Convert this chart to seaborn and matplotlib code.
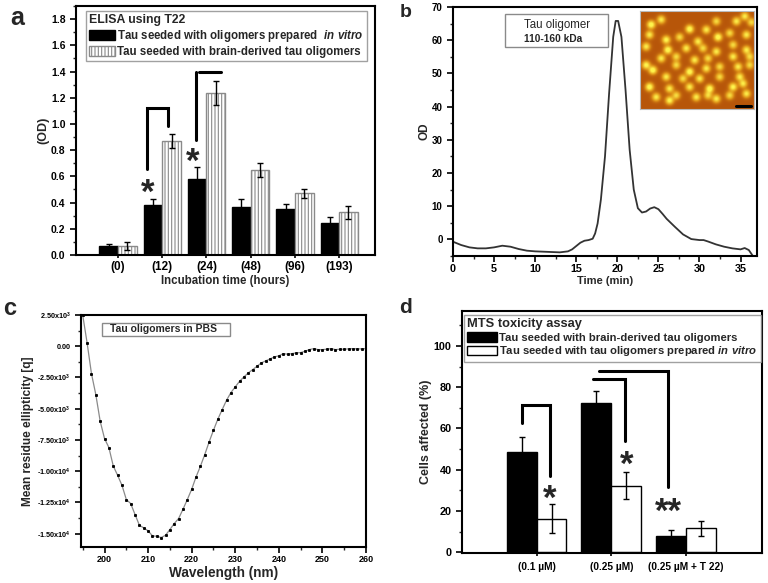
import numpy as np
import pandas as pd
import matplotlib
matplotlib.use('Agg')
import matplotlib.pyplot as plt
import seaborn as sns
from matplotlib.patches import Patch, Rectangle
from matplotlib.colors import LinearSegmentedColormap
from matplotlib.ticker import MultipleLocator, FixedLocator, FormatStrFormatter

# --- panel a: ELISA using T22 ---
elisa_times = ['(0)', '(12)', '(24)', '(48)', '(96)', '(193)']
elisa_invitro = [0.07, 0.38, 0.58, 0.37, 0.35, 0.245]
elisa_invitro_err = [0.015, 0.05, 0.09, 0.06, 0.04, 0.045]
elisa_brain = [0.07, 0.87, 1.235, 0.65, 0.47, 0.325]
elisa_brain_err = [0.03, 0.05, 0.09, 0.055, 0.035, 0.05]

# --- panel b: size exclusion trace ---
sec_time = [0, 1, 2, 3, 4, 5, 6, 7, 8, 9, 10, 11, 12, 13, 14, 14.5, 15, 15.5, 16, 16.5,
            17, 17.3, 17.6, 18, 18.5, 19, 19.5, 19.8, 20.1, 20.5, 21, 21.5, 22, 22.5, 23,
            23.5, 24, 24.5, 25, 25.5, 26, 27, 28, 29, 30, 30.5, 31, 32, 33, 34, 35, 35.5,
            36, 36.5]
sec_od = [-0.7, -1.7, -2.4, -2.7, -2.7, -2.4, -1.9, -2.2, -2.9, -3.4, -3.6, -3.7, -3.8,
          -3.9, -3.6, -3.0, -2.0, -1.0, -0.4, -0.2, 0.2, 1.8, 4.8, 12, 25, 44, 61, 65.8,
          65.8, 61, 45, 27, 15, 9.4, 8.1, 8.4, 9.3, 9.7, 9.1, 7.7, 6.2, 3.8, 1.5, 0.1,
          -0.2, -0.2, -0.6, -1.5, -2.2, -2.7, -3.0, -2.6, -3.2, -5.0]

# AFM inset: bright spots (x, y in inset pixels, brightness)
spot_x = [45, 75, 160, 210, 240, 300, 325, 345, 40, 90, 130, 185, 245, 280, 330, 30, 95,
          150, 200, 240, 290, 330, 75, 120, 175, 215, 290, 340, 30, 50, 120, 160, 210, 250,
          305, 340, 90, 140, 190, 250, 310, 40, 100, 160, 220, 290, 320, 60, 120, 180, 240,
          280, 330, 100, 215]
spot_y = [55, 40, 68, 70, 45, 45, 30, 48, 85, 100, 92, 105, 92, 80, 85, 120, 130, 125, 125,
          135, 115, 130, 155, 150, 160, 155, 150, 150, 175, 190, 175, 195, 185, 180, 180, 175,
          210, 215, 215, 210, 210, 240, 245, 240, 245, 240, 230, 270, 265, 270, 275, 265, 260,
          280, 265]
spot_b = [1.0, 0.8, 1.0, 0.8, 0.7, 0.8, 0.8, 0.7, 0.8, 0.9, 0.7, 0.8, 1.0, 0.7, 0.8, 0.8,
          1.0, 0.8, 0.7, 0.8, 0.7, 0.8, 0.8, 0.7, 0.8, 0.7, 0.8, 0.7, 0.9, 1.0, 0.7, 1.0, 0.8,
          0.7, 0.8, 0.7, 0.8, 0.7, 0.8, 0.7, 0.8, 1.0, 0.8, 0.8, 1.0, 0.9, 0.8, 0.8, 0.7, 0.8,
          0.8, 0.7, 0.8, 0.9, 0.7]

# --- panel c: CD spectrum ---
cd_wavelength = list(range(195, 261))
cd_ellipticity = [2480, 270, -2190, -3870, -6000, -7390, -8110, -9580, -10330, -11130,
                  -12270, -12590, -13470, -14330, -14540, -14780, -15180, -15210, -15310,
                  -15130, -14670, -14190, -13790, -13050, -12270, -11450, -10460, -9610,
                  -8670, -7660, -6720, -5840, -5070, -4320, -3710, -3250, -2800, -2450,
                  -2130, -1870, -1600, -1330, -1170, -1010, -850, -770, -590, -640, -590,
                  -530, -510, -400, -270, -190, -270, -270, -240, -190, -270, -240, -240,
                  -210, -190, -210, -210, -190]
cd_ticks = [2500, 0, -2500, -5000, -7500, -10000, -12500, -15000]
cd_ticklabels = ['2.50x10$^{3}$', '0.00', '-2.50x10$^{3}$', '-5.00x10$^{3}$',
                 '-7.50x10$^{3}$', '-1.00x10$^{4}$', '-1.25x10$^{4}$', '-1.50x10$^{4}$']

# --- panel d: MTS toxicity ---
mts_conc = ['(0.1 µM)', '(0.25 µM)', '(0.25 µM + T 22)']
mts_brain = [48.5, 72.5, 7.7]
mts_brain_err = [7.5, 5.8, 3.2]
mts_invitro = [16.3, 32.3, 11.5]
mts_invitro_err = [7.0, 6.6, 3.8]

sns.set_theme(style='ticks')
plt.rcParams['font.family'] = ['Liberation Sans', 'DejaVu Sans']
plt.rcParams['font.weight'] = 'bold'
plt.rcParams['axes.labelweight'] = 'bold'
plt.rcParams['mathtext.fontset'] = 'custom'
plt.rcParams['mathtext.rm'] = 'Liberation Sans:bold'
plt.rcParams['mathtext.it'] = 'Liberation Sans:bold:italic'
plt.rcParams['mathtext.bf'] = 'Liberation Sans:bold'
plt.rcParams['axes.linewidth'] = 1.5
plt.rcParams['axes.edgecolor'] = 'black'
plt.rcParams['hatch.linewidth'] = 0.8

fig = plt.figure(figsize=(7.68, 5.83), dpi=100)
W, H = 768, 583


def add_ax(left, top, right, bottom):
    return fig.add_axes([left / W, 1 - bottom / H, (right - left) / W, (bottom - top) / H])


def style_ticks(ax, ysize=7.5, xsize=7.5):
    ax.tick_params(axis='both', which='major', direction='out', length=4, width=1.2,
                   colors='black', labelsize=ysize)
    ax.tick_params(axis='both', which='minor', direction='out', length=2.5, width=1.0)
    ax.tick_params(axis='x', labelsize=xsize, pad=2)
    for s in ax.spines.values():
        s.set_visible(True)
        s.set_linewidth(1.5)


def add_errorbars(ax, container, err):
    xs = [p.get_x() + p.get_width() / 2 for p in container.patches]
    hs = [p.get_height() for p in container.patches]
    ax.errorbar(xs, hs, yerr=err, fmt='none', ecolor='black', elinewidth=1,
                capsize=2.5, capthick=1, zorder=4)


def star(ax, x, y, s, fs=25):
    ax.annotate(s, xy=(x, y), xytext=(0, -0.55 * fs), textcoords='offset points',
                ha='center', va='baseline', fontsize=fs, fontweight='bold')


# ================= panel a =================
ax_a = add_ax(76, 6, 375, 255)
df_a = pd.DataFrame({
    'time': elisa_times * 2,
    'od': elisa_invitro + elisa_brain,
    'seed': ['invitro'] * 6 + ['brain'] * 6,
})
sns.barplot(data=df_a, x='time', y='od', hue='seed', palette=['black', 'white'],
            width=0.84, errorbar=None, legend=False, saturation=1, edgecolor='black',
            linewidth=1, ax=ax_a)
for p in ax_a.containers[1].patches:
    p.set_hatch('|||||')
    p.set_edgecolor('#8a8a8a')
add_errorbars(ax_a, ax_a.containers[0], elisa_invitro_err)
add_errorbars(ax_a, ax_a.containers[1], elisa_brain_err)
ax_a.set_xlim(-0.95, 5.81)
ax_a.set_ylim(0, 1.9)
ax_a.yaxis.set_major_locator(MultipleLocator(0.2))
ax_a.yaxis.set_minor_locator(MultipleLocator(0.1))
ax_a.yaxis.set_major_formatter(FormatStrFormatter('%.1f'))
style_ticks(ax_a, 7.5, 8.5)
ax_a.tick_params(axis='x', direction='inout', length=5)
ax_a.set_xlabel('Incubation time (hours)', fontsize=8.3, labelpad=1)
ax_a.set_ylabel('(OD)', fontsize=9, labelpad=1)

# significance brackets
ax_a.plot([0.649, 0.649, 1.131, 1.131], [0.654, 1.124, 1.124, 0.984], color='black', lw=2.2,
          solid_joinstyle='miter')
ax_a.plot([1.758, 1.758], [0.874, 1.393], color='black', lw=2.2)
ax_a.plot([1.833, 2.324], [1.393, 1.393], color='black', lw=2.2)
star(ax_a, 0.679, 0.54, '*')
star(ax_a, 1.697, 0.777, '*')

handles_a = [Patch(facecolor='black', edgecolor='black'),
             Patch(facecolor='white', edgecolor='#8a8a8a', hatch='|||||')]
labels_a = ['Tau seeded with oligomers prepared  $in\\ vitro$',
            'Tau seeded with brain-derived tau oligomers']
leg = ax_a.legend(handles_a, labels_a, title='ELISA using T22', loc='upper left',
                  bbox_to_anchor=(0.033, 0.98), borderaxespad=0, fancybox=False,
                  edgecolor='#8a8a8a', fontsize=8.3, alignment='left', handlelength=2.2,
                  handleheight=0.9, handletextpad=0.2, labelspacing=0.15, borderpad=0.3,
                  title_fontproperties={'weight': 'bold', 'size': 8.8})
leg.get_frame().set_linewidth(1)

# ================= panel b =================
ax_b = add_ax(453, 7, 757, 256)
sns.lineplot(x=sec_time, y=sec_od, color='#333333', lw=1.3, ax=ax_b)
ax_b.set_xlim(0, 37)
ax_b.set_ylim(-5, 70)
ax_b.xaxis.set_major_locator(MultipleLocator(5))
ax_b.xaxis.set_minor_locator(MultipleLocator(2.5))
ax_b.yaxis.set_major_locator(MultipleLocator(10))
ax_b.yaxis.set_minor_locator(MultipleLocator(5))
style_ticks(ax_b, 7, 7.8)
ax_b.set_xlabel('Time (min)', fontsize=8, labelpad=1)
ax_b.set_ylabel('OD', fontsize=8.5, labelpad=1)
ax_b.add_patch(Rectangle((0.171, 0.839), 0.339, 0.133, transform=ax_b.transAxes,
                         facecolor='white', edgecolor='#8a8a8a', lw=1))
ax_b.text(0.234, 0.928, 'Tau oligomer', transform=ax_b.transAxes, fontsize=8.3,
          fontweight='normal', va='center', ha='left')
ax_b.text(0.234, 0.871, '110-160 kDa', transform=ax_b.transAxes, fontsize=7.3,
          va='center', ha='left')

# AFM inset
ax_in = ax_b.inset_axes([0.614, 0.59, 0.376, 0.395])
gx, gy = np.meshgrid(np.arange(12, 356), np.arange(12, 306))
field = np.full(gx.shape, 0.33)
for sx, sy, sb in zip(spot_x, spot_y, spot_b):
    field += sb * 0.8 * np.exp(-((gx - sx) ** 2 + (gy - sy) ** 2) / (2 * 8.0 ** 2))
afm_cmap = LinearSegmentedColormap.from_list(
    'afm', [(0, '#6a2600'), (0.3, '#b24e08'), (0.55, '#df9418'), (1.0, '#fff44c')])
ax_in.imshow(np.clip(field, 0, 1), cmap=afm_cmap, vmin=0, vmax=1,
             extent=(12, 355, 305, 12), aspect='auto', interpolation='bilinear')
ax_in.plot([300, 345], [296, 296], color='black', lw=2.2)
ax_in.set_xlim(12, 355)
ax_in.set_ylim(305, 12)
ax_in.set_xticks([])
ax_in.set_yticks([])
for s in ax_in.spines.values():
    s.set_edgecolor('#bbbbbb')
    s.set_linewidth(0.8)

# ================= panel c =================
ax_c = add_ax(81, 315, 366, 547)
sns.lineplot(x=cd_wavelength, y=cd_ellipticity, color='#8a8a8a', lw=0.9, marker='s',
             markersize=1.3, markerfacecolor='black', markeredgecolor='black', ax=ax_c)
ax_c.set_xlim(194.6, 260)
ax_c.set_ylim(-16070, 2500)
ax_c.yaxis.set_major_locator(FixedLocator(cd_ticks))
ax_c.set_yticklabels(cd_ticklabels)
ax_c.yaxis.set_minor_locator(MultipleLocator(1250))
ax_c.xaxis.set_major_locator(MultipleLocator(10))
ax_c.xaxis.set_minor_locator(MultipleLocator(5))
style_ticks(ax_c, 5.2, 6.5)
ax_c.set_xlabel('Wavelength (nm)', fontsize=9.8, labelpad=1)
ax_c.set_ylabel('Mean residue ellipticity [q]', fontsize=8.6, labelpad=2)
ax_c.add_patch(Rectangle((0.074, 0.909), 0.449, 0.057, transform=ax_c.transAxes,
                         facecolor='white', edgecolor='#8a8a8a', lw=1))
ax_c.text(0.102, 0.9375, 'Tau oligomers in PBS', transform=ax_c.transAxes, fontsize=7.5,
          va='center', ha='left')

# ================= panel d =================
ax_d = add_ax(462, 311, 762, 553)
df_d = pd.DataFrame({
    'conc': mts_conc * 2,
    'pct': mts_brain + mts_invitro,
    'seed': ['brain'] * 3 + ['invitro'] * 3,
})
sns.barplot(data=df_d, x='conc', y='pct', hue='seed', palette=['black', 'white'],
            width=0.8, errorbar=None, legend=False, saturation=1, edgecolor='black',
            linewidth=1, ax=ax_d)
add_errorbars(ax_d, ax_d.containers[0], mts_brain_err)
add_errorbars(ax_d, ax_d.containers[1], mts_invitro_err)
ax_d.set_xlim(-1.0, 3.02)
ax_d.set_ylim(-0.4, 117)
ax_d.yaxis.set_major_locator(MultipleLocator(20))
ax_d.yaxis.set_minor_locator(MultipleLocator(10))
style_ticks(ax_d, 7.8, 7.3)
ax_d.tick_params(axis='x', direction='inout', length=5, pad=4)
ax_d.set_xlabel('')
ax_d.set_ylabel('Cells affected (%)', fontsize=9, labelpad=1)

ax_d.plot([-0.19, -0.19, 0.18, 0.18], [62.7, 71.2, 71.2, 37.0], color='black', lw=2.2,
          solid_joinstyle='miter')
ax_d.plot([0.76, 1.18, 1.18], [83.9, 83.9, 53.9], color='black', lw=2.2,
          solid_joinstyle='miter')
ax_d.plot([0.84, 1.755, 1.755], [87.9, 87.9, 31.4], color='black', lw=2.2,
          solid_joinstyle='miter')
star(ax_d, 0.18, 30.5, '*')
star(ax_d, 1.205, 46.6, '*')
star(ax_d, 1.76, 24.1, '**')

handles_d = [Patch(facecolor='black', edgecolor='black'),
             Patch(facecolor='white', edgecolor='black')]
labels_d = ['Tau seeded with brain-derived tau oligomers',
            'Tau seeded with tau oligomers prepared $in\\ vitro$']
leg = ax_d.legend(handles_d, labels_d, title='MTS toxicity assay', loc='upper left',
                  bbox_to_anchor=(0.007, 0.983), borderaxespad=0, fancybox=False,
                  edgecolor='#8a8a8a', fontsize=8.1, alignment='left', handlelength=2.6,
                  handleheight=0.9, handletextpad=0.2, labelspacing=0.15, borderpad=0.3,
                  title_fontproperties={'weight': 'bold', 'size': 9.3})
leg.get_frame().set_linewidth(1)

# panel letters
fig.text(10 / W, 1 - 25 / H, 'a', fontsize=18, fontweight='bold', va='baseline')
fig.text(400 / W, 1 - 17 / H, 'b', fontsize=14, fontweight='bold', va='baseline')
fig.text(3 / W, 1 - 315 / H, 'c', fontsize=17, fontweight='bold', va='baseline')
fig.text(399 / W, 1 - 313 / H, 'd', fontsize=15, fontweight='bold', va='baseline')

fig.savefig('out.png', dpi=100)
